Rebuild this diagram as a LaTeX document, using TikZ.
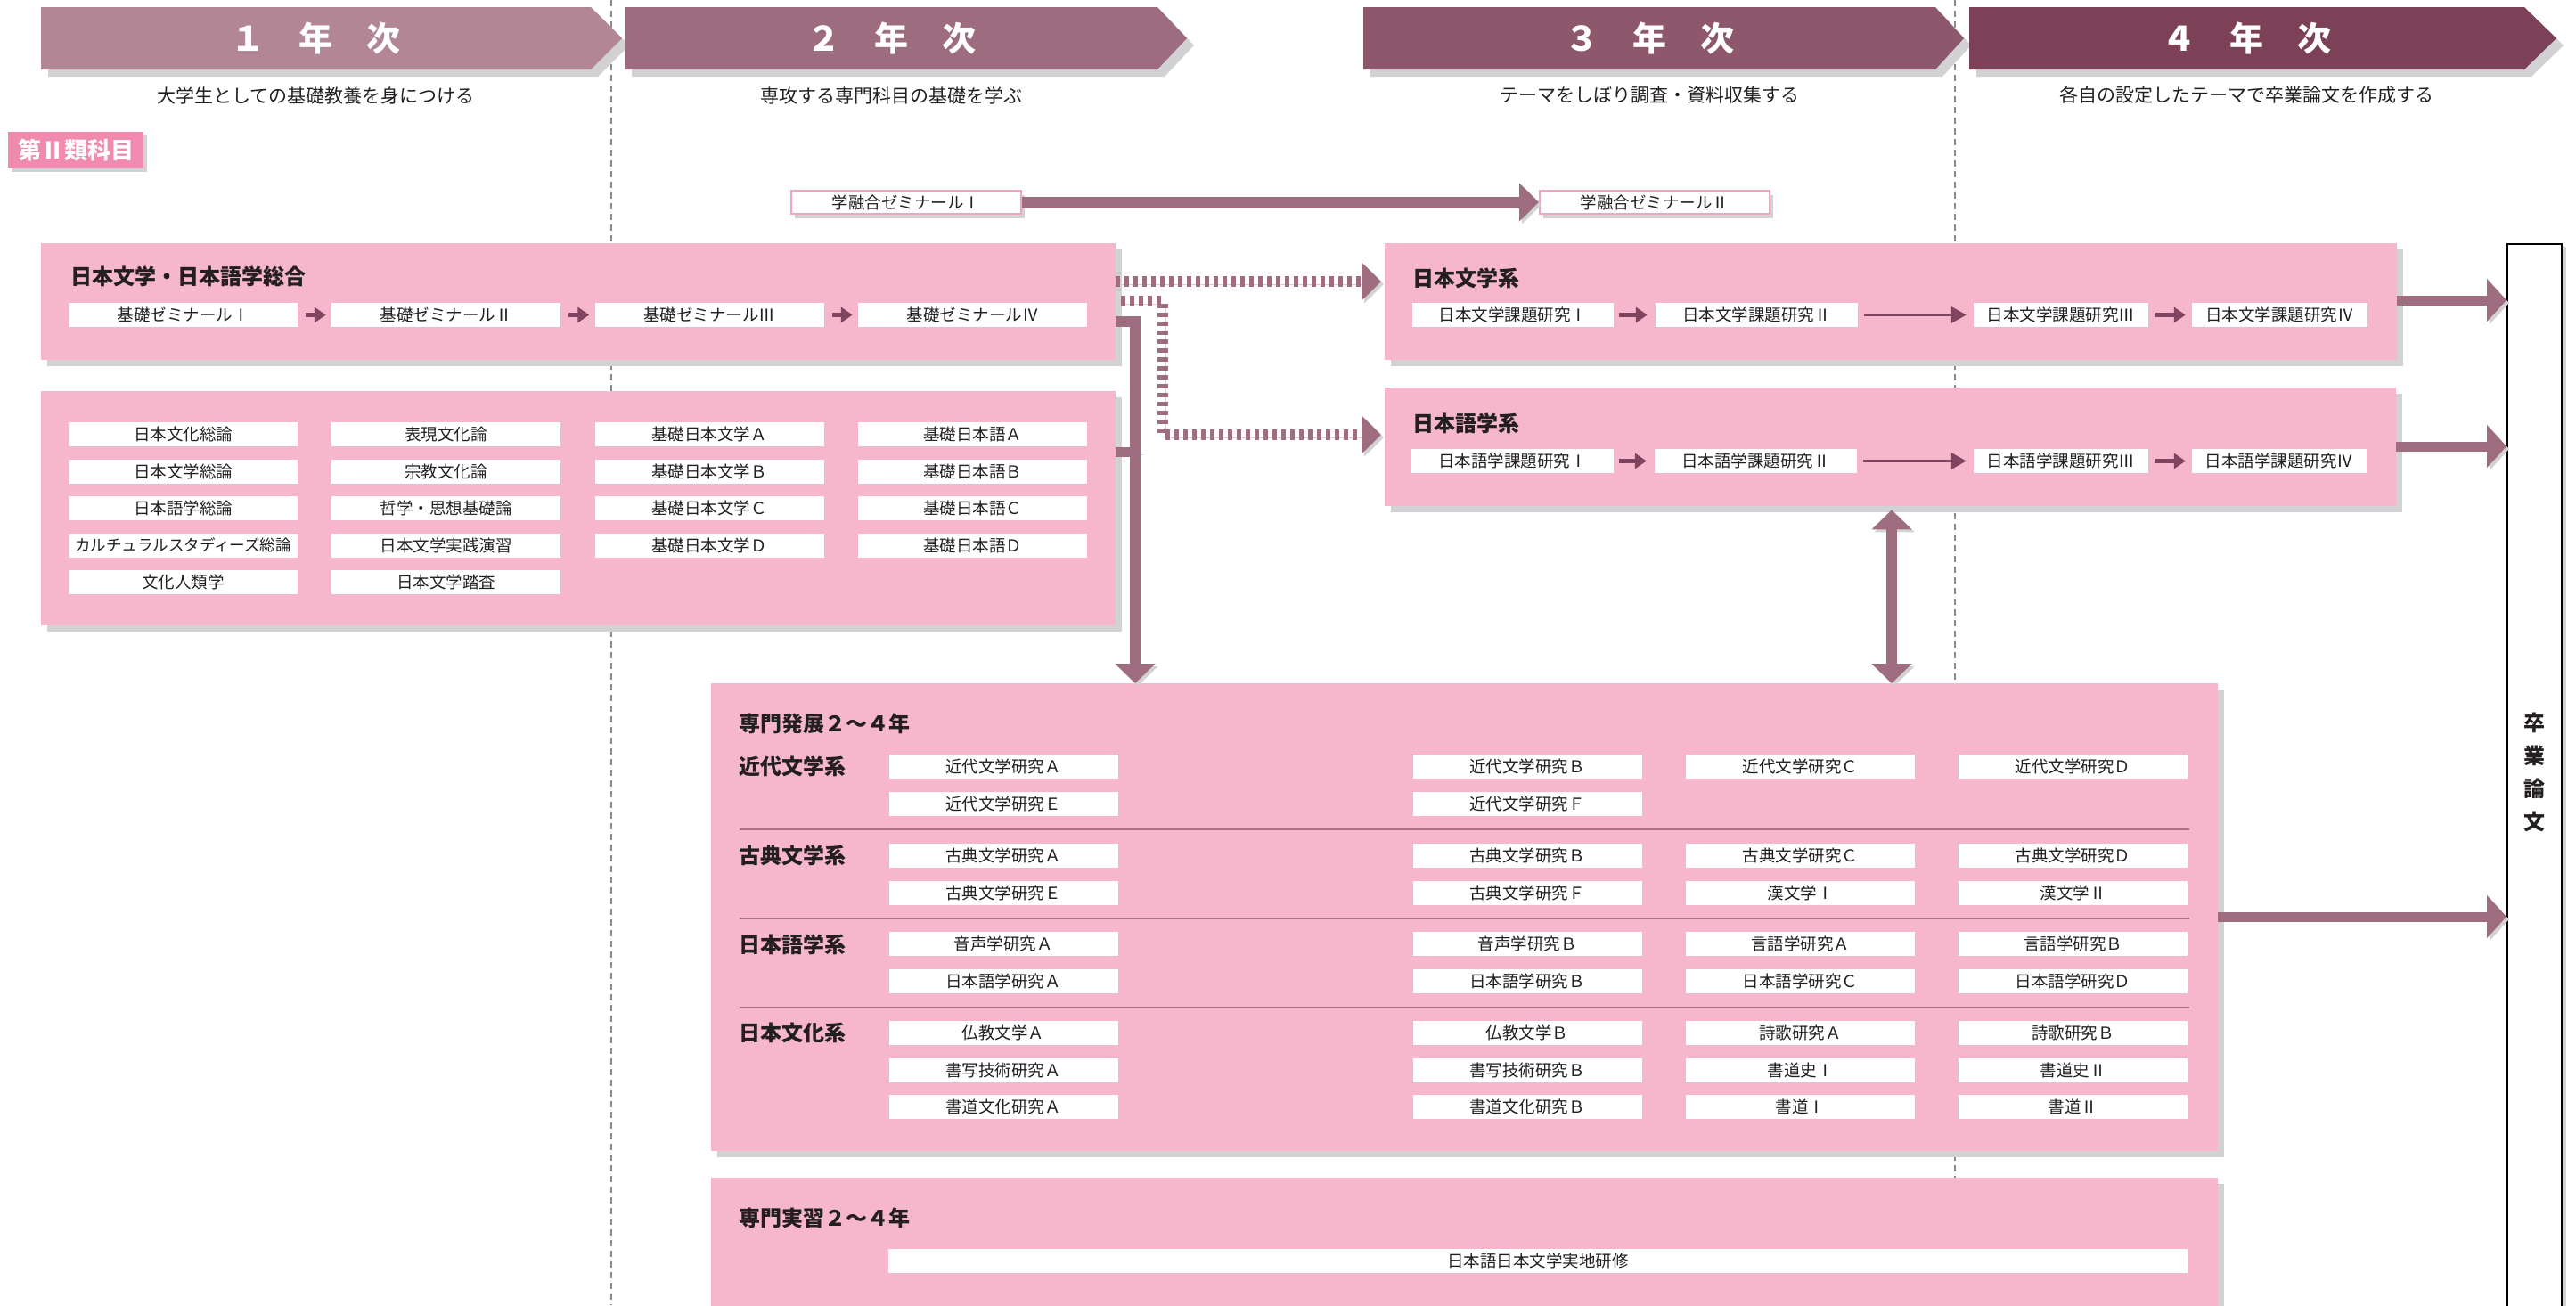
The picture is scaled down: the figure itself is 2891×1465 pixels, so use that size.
\documentclass[tikz,border=0pt]{standalone}
\usepackage{fontspec}
\setmainfont{Noto Sans CJK JP}
\usetikzlibrary{arrows.meta,shadows}
\definecolor{yrA}{HTML}{B28695}
\definecolor{yrB}{HTML}{9E6C7F}
\definecolor{yrC}{HTML}{8D586C}
\definecolor{yrD}{HTML}{7C4057}
\definecolor{boxpink}{HTML}{F6B7CC}
\definecolor{shadowgray}{HTML}{D2D2D4}
\definecolor{labelpink}{HTML}{F08AAE}
\definecolor{arrmauve}{HTML}{9F6D80}
\definecolor{smallarr}{HTML}{7F4560}
\definecolor{sepline}{HTML}{A87184}
\definecolor{zpink}{HTML}{F3A5C0}
\definecolor{divgray}{HTML}{8A8A8A}
\definecolor{txt}{HTML}{231F20}
\newcommand{\yrbanner}[6]{%
  \fill[shadowgray] (#1+8,16) -- (#2+8,16) -- (#3+8,51) -- (#2+8,86) -- (#1+8,86) -- cycle;
  \fill[#4] (#1,8) -- (#2,8) -- (#3,43) -- (#2,78) -- (#1,78) -- cycle;
  \node[yrtext] (#6) at ({(#1+#2)/2},43) {#5};}
\tikzset{
  divline/.style={draw=divgray, line width=1.5pt, dash pattern=on 7pt off 5pt},
  yrtext/.style={text=white, inner sep=0, font=\fontsize{38}{40}\selectfont\bfseries},
  subt/.style={text=txt, inner sep=0, font=\fontsize{21}{23}\selectfont},
  pbox/.style={fill=boxpink, draw=none, inner sep=0, anchor=north west,
    drop shadow={shadow xshift=7pt, shadow yshift=-7pt, fill=shadowgray, opacity=1}},
  crs/.style={fill=white, text=txt, inner sep=0, minimum height=27pt, minimum width=257pt,
    font=\fontsize{18.5}{20}\selectfont},
  ttl/.style={anchor=west, text=txt, inner sep=0, font=\fontsize{24}{26}\selectfont\bfseries},
  zemi/.style={fill=white, draw=zpink, line width=2pt, text=txt, inner sep=0,
    minimum width=258pt, minimum height=26pt, font=\fontsize{18.5}{20}\selectfont,
    drop shadow={shadow xshift=4pt, shadow yshift=-5pt, fill=shadowgray, opacity=1}},
  arrshadow/.style={preaction={draw=shadowgray, transform canvas={shift={(3,3)}}}},
  bigarr/.style={draw=arrmauve, line width=12pt, line cap=butt, line join=miter,
    -{Triangle[length=22pt,width=44pt]}, arrshadow},
  dotarr/.style={draw=arrmauve, line width=12pt, line cap=butt, line join=miter,
    dash pattern=on 4.5pt off 5.5pt, -{Triangle[length=22pt,width=42pt]}, arrshadow},
  smarr/.style={draw=smallarr, line width=5pt, -{Triangle[length=13pt,width=17pt]}},
  longarr/.style={draw=smallarr, line width=3.5pt, -{Triangle[length=17pt,width=18pt]}},
  sep/.style={draw=sepline, line width=2pt},
}
\begin{document}
\begin{tikzpicture}[x=1pt,y=-1pt]
\useasboundingbox (0,0) rectangle (2891,1465);
% year dividers
\draw[divline] (686,0) -- (686,1465);
\draw[divline] (2194,0) -- (2194,1465);
% year banners
\yrbanner{46}{663}{698}{yrA}{１　年　次}{yr1}
\yrbanner{701}{1299}{1332}{yrB}{２　年　次}{yr2}
\yrbanner{1530}{2172}{2204}{yrC}{３　年　次}{yr3}
\yrbanner{2210}{2833}{2869}{yrD}{４　年　次}{yr4}
\node[subt] (st1) at (354.5,107) {大学生としての基礎教養を身につける};
\node[subt] (st2) at (1000,107) {専攻する専門科目の基礎を学ぶ};
\node[subt] (st3) at (1851,107) {テーマをしぼり調査・資料収集する};
\node[subt] (st4) at (2521,107) {各自の設定したテーマで卒業論文を作成する};
% category label
\node[fill=labelpink, text=white, inner sep=0, minimum width=152pt, minimum height=41pt,
  font=\fontsize{26}{28}\selectfont\bfseries,
  drop shadow={shadow xshift=4pt, shadow yshift=-4pt, fill=shadowgray, opacity=1}]
  (cat) at (85,168.5) {第Ⅱ類科目};
% gakuyugo seminars
\node[zemi] (z1) at (1017,227) {学融合ゼミナールⅠ};
\node[zemi] (z2) at (1857,227) {学融合ゼミナールⅡ};
% general box
\node[pbox, minimum width=1206pt, minimum height=131pt] (gen) at (46,273) {};
\node[ttl] (gent) at (79,310) {日本文学・日本語学総合};
\node[crs] (s1) at (205.5,353.5) {基礎ゼミナールⅠ};
\node[crs] (s2) at (500.5,353.5) {基礎ゼミナールⅡ};
\node[crs] (s3) at (796,353.5) {基礎ゼミナールⅢ};
\node[crs] (s4) at (1091.5,353.5) {基礎ゼミナールⅣ};
% basic courses box
\node[pbox, minimum width=1206pt, minimum height=263pt] (bas) at (46,439) {};
\node[crs] (b11) at (205.5,487.5) {日本文化総論};
\node[crs] (b12) at (205.5,529) {日本文学総論};
\node[crs] (b13) at (205.5,570.5) {日本語学総論};
\node[crs, font=\fontsize{17.5}{19}\selectfont] (b14) at (205.5,612) {カルチュラルスタディーズ総論};
\node[crs] (b15) at (205.5,653.5) {文化人類学};
\node[crs] (b21) at (500.5,487.5) {表現文化論};
\node[crs] (b22) at (500.5,529) {宗教文化論};
\node[crs] (b23) at (500.5,570.5) {哲学・思想基礎論};
\node[crs] (b24) at (500.5,612) {日本文学実践演習};
\node[crs] (b25) at (500.5,653.5) {日本文学踏査};
\node[crs] (b31) at (796,487.5) {基礎日本文学Ａ};
\node[crs] (b32) at (796,529) {基礎日本文学Ｂ};
\node[crs] (b33) at (796,570.5) {基礎日本文学Ｃ};
\node[crs] (b34) at (796,612) {基礎日本文学Ｄ};
\node[crs] (b41) at (1091.5,487.5) {基礎日本語Ａ};
\node[crs] (b42) at (1091.5,529) {基礎日本語Ｂ};
\node[crs] (b43) at (1091.5,570.5) {基礎日本語Ｃ};
\node[crs] (b44) at (1091.5,612) {基礎日本語Ｄ};
% nihon bungaku kei
\node[pbox, minimum width=1136pt, minimum height=131pt] (bun) at (1554,273) {};
\node[ttl] (bunt) at (1585,312) {日本文学系};
\node[crs, minimum width=226pt] (k1) at (1698,353.5) {日本文学課題研究Ⅰ};
\node[crs, minimum width=227pt] (k2) at (1971.5,353.5) {日本文学課題研究Ⅱ};
\node[crs, minimum width=196pt] (k3) at (2313,353.5) {日本文学課題研究Ⅲ};
\node[crs, minimum width=197pt] (k4) at (2558.5,353.5) {日本文学課題研究Ⅳ};
% nihongo gaku kei
\node[pbox, minimum width=1135pt, minimum height=133pt] (go) at (1554,435) {};
\node[ttl] (got) at (1585,475) {日本語学系};
\node[crs, minimum width=227pt] (g1) at (1697.5,517.5) {日本語学課題研究Ⅰ};
\node[crs, minimum width=227pt] (g2) at (1970.5,517.5) {日本語学課題研究Ⅱ};
\node[crs, minimum width=196pt] (g3) at (2313,517.5) {日本語学課題研究Ⅲ};
\node[crs, minimum width=196pt] (g4) at (2558,517.5) {日本語学課題研究Ⅳ};
% senmon hatten
\node[pbox, minimum width=1691pt, minimum height=525pt] (hat) at (798,767) {};
\node[ttl] (hatt) at (829,812) {専門発展２～４年};
\node[ttl] (h1) at (829,860) {近代文学系};
\node[ttl] (h2) at (829,960) {古典文学系};
\node[ttl] (h3) at (829,1060) {日本語学系};
\node[ttl] (h4) at (829,1159) {日本文化系};
\draw[sep] (830,931) -- (2457,931);
\draw[sep] (830,1031) -- (2457,1031);
\draw[sep] (830,1131) -- (2457,1131);
\node[crs] (m11) at (1126,860) {近代文学研究Ａ};
\node[crs] (m12) at (1714,860) {近代文学研究Ｂ};
\node[crs] (m13) at (2020.5,860) {近代文学研究Ｃ};
\node[crs] (m14) at (2326.5,860) {近代文学研究Ｄ};
\node[crs] (m21) at (1126,902) {近代文学研究Ｅ};
\node[crs] (m22) at (1714,902) {近代文学研究Ｆ};
\node[crs] (c11) at (1126,960) {古典文学研究Ａ};
\node[crs] (c12) at (1714,960) {古典文学研究Ｂ};
\node[crs] (c13) at (2020.5,960) {古典文学研究Ｃ};
\node[crs] (c14) at (2326.5,960) {古典文学研究Ｄ};
\node[crs] (c21) at (1126,1002) {古典文学研究Ｅ};
\node[crs] (c22) at (1714,1002) {古典文学研究Ｆ};
\node[crs] (c23) at (2020.5,1002) {漢文学Ⅰ};
\node[crs] (c24) at (2326.5,1002) {漢文学Ⅱ};
\node[crs] (j11) at (1126,1059.5) {音声学研究Ａ};
\node[crs] (j12) at (1714,1059.5) {音声学研究Ｂ};
\node[crs] (j13) at (2020.5,1059.5) {言語学研究Ａ};
\node[crs] (j14) at (2326.5,1059.5) {言語学研究Ｂ};
\node[crs] (j21) at (1126,1101.5) {日本語学研究Ａ};
\node[crs] (j22) at (1714,1101.5) {日本語学研究Ｂ};
\node[crs] (j23) at (2020.5,1101.5) {日本語学研究Ｃ};
\node[crs] (j24) at (2326.5,1101.5) {日本語学研究Ｄ};
\node[crs] (n11) at (1126,1159.5) {仏教文学Ａ};
\node[crs] (n12) at (1714,1159.5) {仏教文学Ｂ};
\node[crs] (n13) at (2020.5,1159.5) {詩歌研究Ａ};
\node[crs] (n14) at (2326.5,1159.5) {詩歌研究Ｂ};
\node[crs] (n21) at (1126,1201.5) {書写技術研究Ａ};
\node[crs] (n22) at (1714,1201.5) {書写技術研究Ｂ};
\node[crs] (n23) at (2020.5,1201.5) {書道史Ⅰ};
\node[crs] (n24) at (2326.5,1201.5) {書道史Ⅱ};
\node[crs] (n31) at (1126,1242.5) {書道文化研究Ａ};
\node[crs] (n32) at (1714,1242.5) {書道文化研究Ｂ};
\node[crs] (n33) at (2020.5,1242.5) {書道Ⅰ};
\node[crs] (n34) at (2326.5,1242.5) {書道Ⅱ};
% senmon jisshu
\node[pbox, minimum width=1691pt, minimum height=170pt] (jis) at (798,1322) {};
\node[ttl] (jist) at (829,1367) {専門実習２～４年};
\node[crs, minimum width=1458pt] (jis1) at (1726,1415.5) {日本語日本文学実地研修};
% sotsugyo ronbun
\node[draw=black, line width=2pt, fill=white, anchor=north west, inner sep=0,
  minimum width=61pt, minimum height=1220pt,
  drop shadow={shadow xshift=5pt, shadow yshift=-3pt, fill=shadowgray, opacity=1}]
  (sot) at (2813,273) {};
\node[align=center, text=txt, inner sep=0, font=\fontsize{24}{37}\selectfont\bfseries]
  (sott) at (2844,867) {卒\\業\\論\\文};
% small arrows inside boxes
\draw[smarr, shorten <=9pt, shorten >=6pt] (s1.east) -- (s2.west);
\draw[smarr, shorten <=9pt, shorten >=6pt] (s2.east) -- (s3.west);
\draw[smarr, shorten <=9pt, shorten >=6pt] (s3.east) -- (s4.west);
\draw[smarr, shorten <=6pt, shorten >=9pt] (k1.east) -- (k2.west);
\draw[longarr, shorten <=7pt, shorten >=8pt] (k2.east) -- (k3.west);
\draw[smarr, shorten <=8pt, shorten >=7pt] (k3.east) -- (k4.west);
\draw[smarr, shorten <=6pt, shorten >=9pt] (g1.east) -- (g2.west);
\draw[longarr, shorten <=7pt, shorten >=8pt] (g2.east) -- (g3.west);
\draw[smarr, shorten <=8pt, shorten >=7pt] (g3.east) -- (g4.west);
% big connectors
\draw[bigarr, line width=13pt, -{Triangle[length=22pt,width=42pt]}] (z1.east) -- (z2.west);
\draw[dotarr, shorten >=4pt] (gen.east |- 0,316) -- (bun.west |- 0,316);
\coordinate (d2a) at (1258,338);
\coordinate (d2b) at (1305,338);
\coordinate (d2c) at (1305,488);
\draw[dotarr, shorten >=4pt] (d2a) -- (d2b) -- (d2c) -- (go.west |- d2c);
\coordinate (vbar) at (1274,361);
\draw[bigarr] (gen.east |- vbar) -- (vbar) -- (hat.north -| vbar);
\draw[draw=arrmauve, line width=11pt, arrshadow] (bas.east |- 0,507) -- (1280,507);
\coordinate (dbl) at (2123,600);
\draw[bigarr, {Triangle[length=22pt,width=44pt]}-{Triangle[length=22pt,width=44pt]}, shorten <=4pt]
  (go.south -| dbl) -- (hat.north -| dbl);
\draw[bigarr, line width=11pt, -{Triangle[length=22pt,width=47pt]}] (bun.east |- 0,337) -- (sot.west |- 0,337);
\draw[bigarr, line width=11pt, -{Triangle[length=22pt,width=47pt]}] (go.east |- 0,501) -- (sot.west |- 0,501);
\draw[bigarr, line width=11pt, -{Triangle[length=22pt,width=47pt]}] (hat.east |- 0,1029) -- (sot.west |- 0,1029);
\end{tikzpicture}
\end{document}
